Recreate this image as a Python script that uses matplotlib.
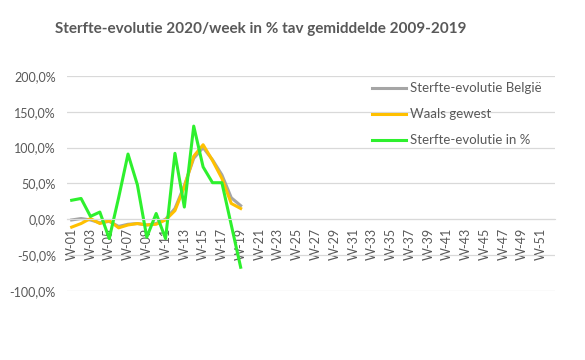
import matplotlib.pyplot as plt
from matplotlib.ticker import FuncFormatter

plt.rcParams['font.family'] = ['Lato', 'DejaVu Sans']

# data
weeks = [f"W-{i:02d}" for i in range(1, 53)]
belgie = [-1, 1, -1, -5, -3, -10, -7, -6, -8, -6, 0, 15, 47, 85, 100, 83, 62, 30, 19]
waals = [-11, -6, 1, -6, -2, -12, -8, -6, -8, -7, -1, 12, 45, 88, 104, 82, 57, 22, 15]
sterfte = [26.5, 29, 4, 10, -27, 30, 91, 48, -25, 8, -27, 92, 17, 130, 73, 51, 51, -8, -67]

labels = ['Sterfte-evolutie België', 'Waals gewest', 'Sterfte-evolutie in %']
colors = ['#A5A5A5', '#FFC000', '#2EF02E']
txt = '#595959'

fig = plt.figure(figsize=(5.85, 3.6), dpi=100)
ax = fig.add_axes([0.1145, 0.192, 0.8345, 0.597])

x = list(range(1, len(belgie) + 1))
for vals, lab, col in zip([belgie, waals, sterfte], labels, colors):
    ax.plot(x, vals, color=col, lw=2.2, label=lab, solid_joinstyle='round')

ax.set_xlim(0.5, len(weeks) + 0.5)
ax.set_ylim(-100, 200)
ax.set_yticks([-100, -50, 0, 50, 100, 150, 200])
ax.yaxis.set_major_formatter(FuncFormatter(lambda v, p: f"{v:.1f}%".replace('.', ',')))
ax.grid(axis='y', color='#D9D9D9', lw=0.9)
ax.set_axisbelow(True)

ticks = list(range(1, len(weeks) + 1, 2))
ax.set_xticks(ticks)
ax.set_xticklabels([weeks[t - 1] for t in ticks])

for s in ['top', 'right', 'left']:
    ax.spines[s].set_visible(False)
ax.spines['bottom'].set_position(('data', 0))
ax.spines['bottom'].set_color('#D9D9D9')
ax.tick_params(axis='both', length=0, colors=txt, labelsize=9)
ax.tick_params(axis='x', pad=6, labelrotation=90)
ax.tick_params(axis='y', pad=8)

leg = ax.legend(loc='upper left', bbox_to_anchor=(0.6, 1.025), frameon=False,
                fontsize=9.5, handlelength=2.6, handletextpad=0.3, labelspacing=1.05)
for t in leg.get_texts():
    t.set_color(txt)

fig.text(261 / 585, 1 - 29 / 360, 'Sterfte-evolutie 2020/week in % tav gemiddelde 2009-2019',
         ha='center', va='center', fontsize=11, fontweight='bold', color=txt)

fig.savefig('out.png', dpi=100)
